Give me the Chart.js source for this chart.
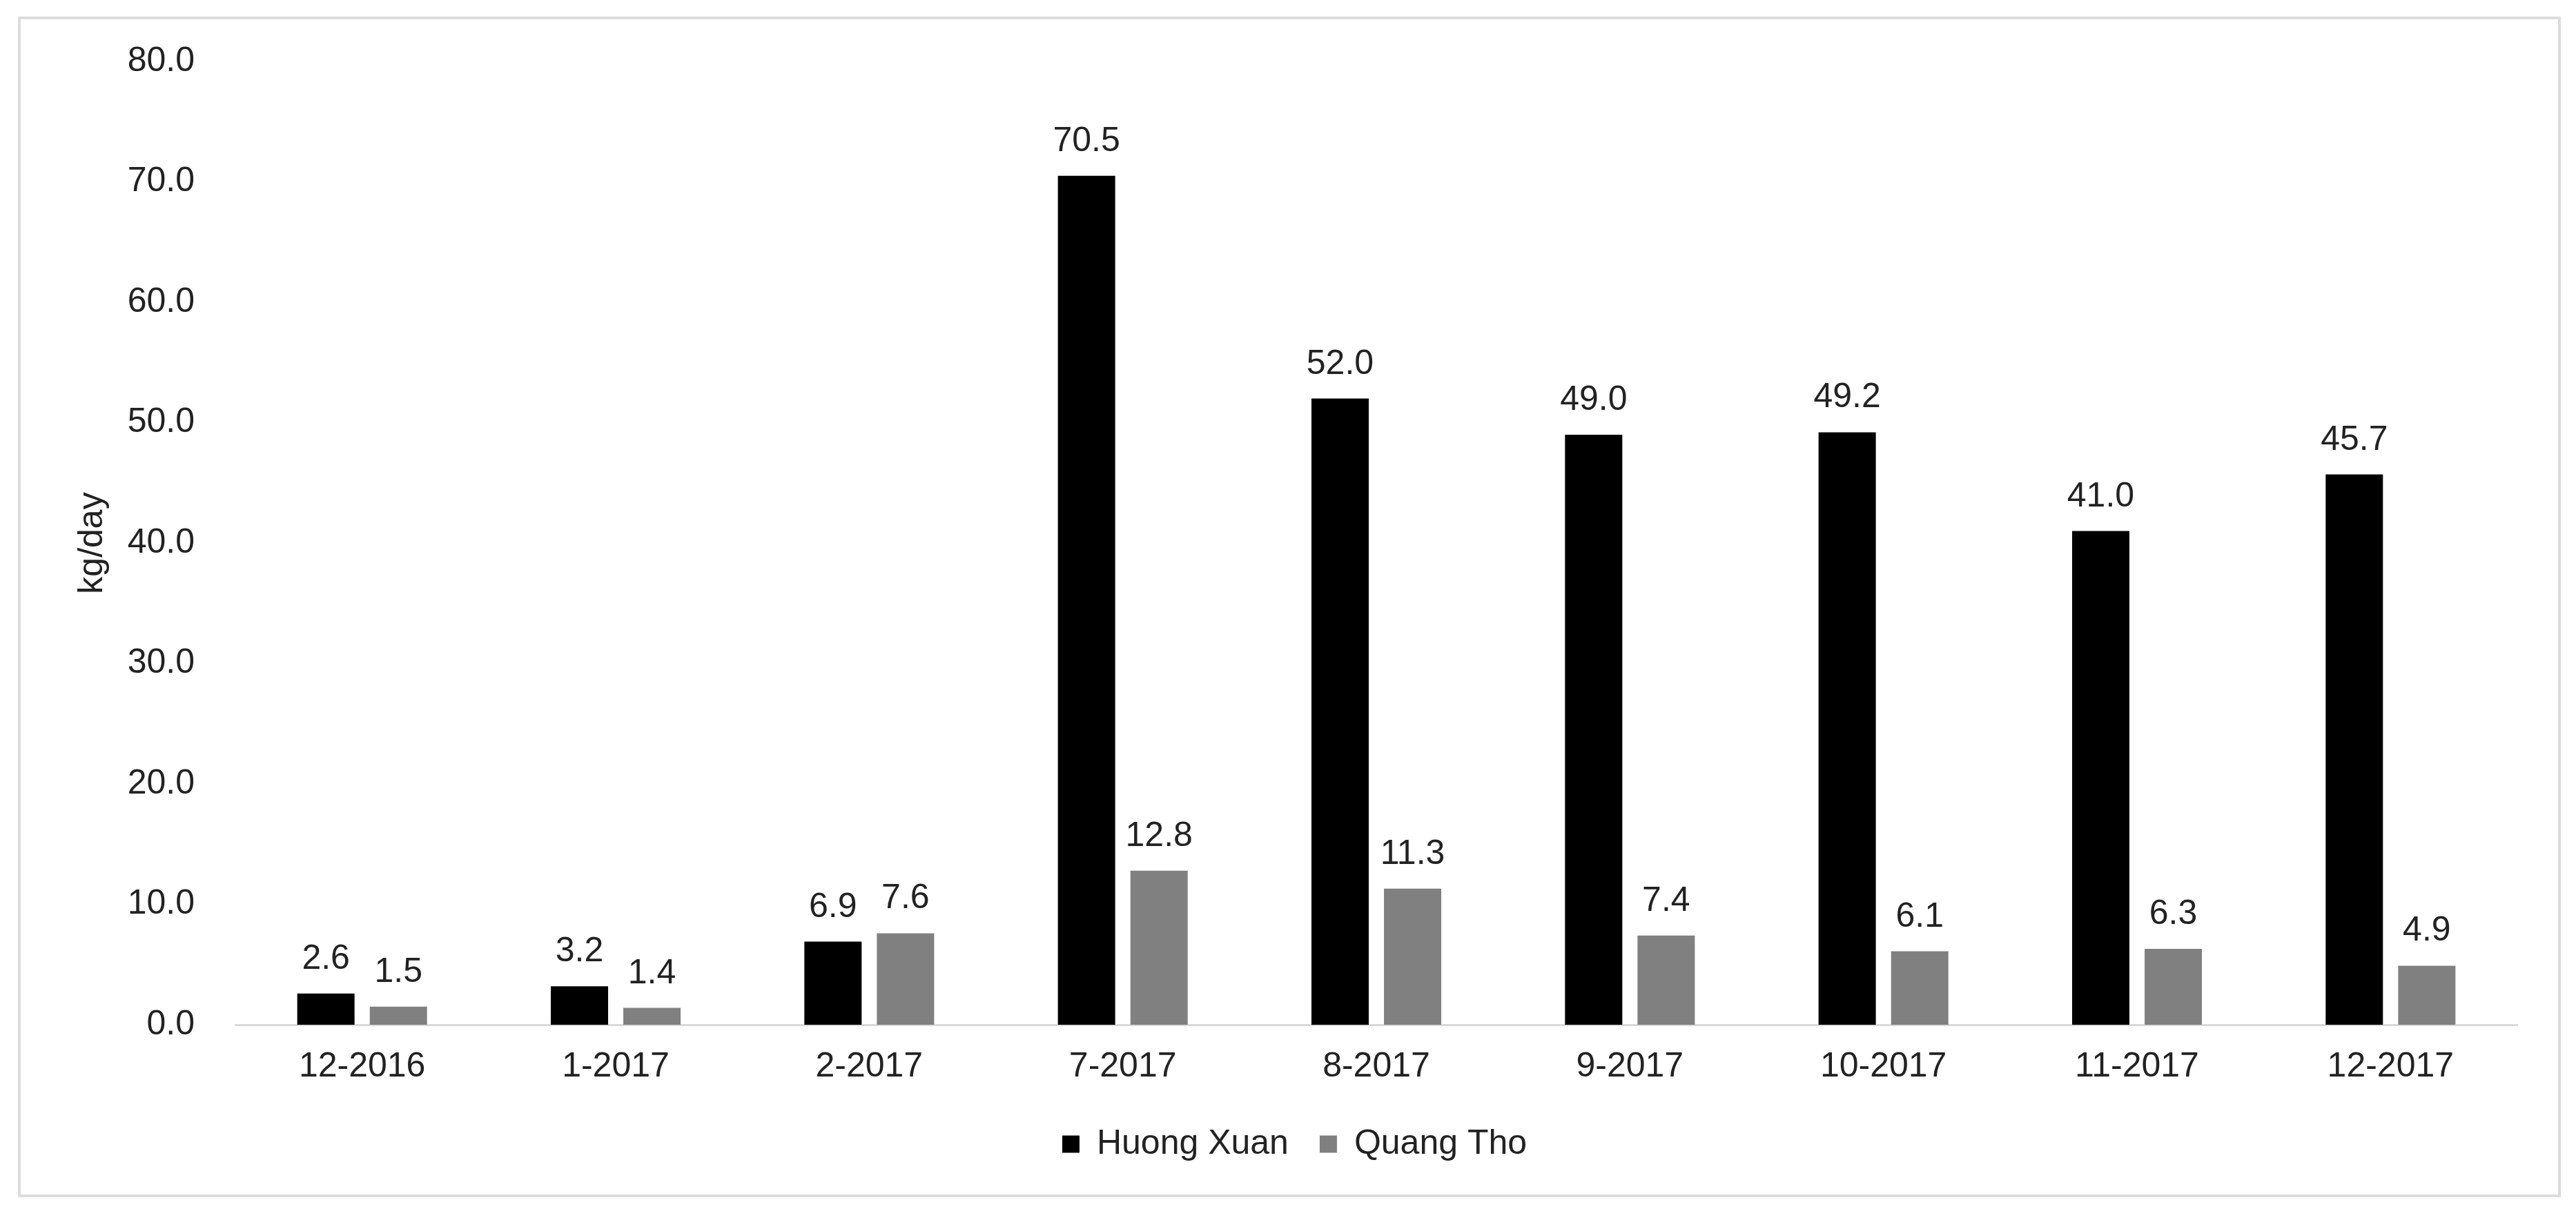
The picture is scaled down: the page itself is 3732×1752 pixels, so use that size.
<!DOCTYPE html>
<html>
<head>
<meta charset="utf-8">
<script src="https://cdn.jsdelivr.net/npm/chart.js@4"></script>
<style>
  html, body { margin: 0; padding: 0; background: #fff; }
  #wrap { position: relative; width: 3732px; height: 1752px; }
  #frame {
    position: absolute; left: 26px; top: 24px; width: 3684px; height: 1711px;
    border: 4px solid #dcdcdc; box-sizing: border-box; pointer-events: none;
  }
</style>
</head>
<body>
<div id="wrap">
  <canvas id="chart" width="3732" height="1752"></canvas>
  <div id="frame"></div>
</div>
<script>
// data
const months = ["12-2016", "1-2017", "2-2017", "7-2017", "8-2017", "9-2017", "10-2017", "11-2017", "12-2017"];
const huongXuan = [2.6, 3.2, 6.9, 70.5, 52.0, 49.0, 49.2, 41.0, 45.7];
const quangTho = [1.5, 1.4, 7.6, 12.8, 11.3, 7.4, 6.1, 6.3, 4.9];

const FONT = "'Liberation Sans', Arial, sans-serif";
const TEXT = "#222222";

// value labels above each bar
const valueLabels = {
  id: "valueLabels",
  afterDatasetsDraw(chart) {
    const ctx = chart.ctx;
    ctx.save();
    ctx.font = "50px " + FONT;
    ctx.fillStyle = TEXT;
    ctx.textAlign = "center";
    ctx.textBaseline = "alphabetic";
    chart.data.datasets.forEach((ds, i) => {
      chart.getDatasetMeta(i).data.forEach((bar, j) => {
        ctx.fillText(ds.data[j].toFixed(1), bar.x, bar.y - 36);
      });
    });
    ctx.restore();
  },
};

Chart.defaults.font.family = FONT;
Chart.defaults.font.size = 50;
Chart.defaults.color = TEXT;

new Chart(document.getElementById("chart").getContext("2d"), {
  type: "bar",
  data: {
    labels: months,
    datasets: [
      {
        label: "Huong Xuan",
        data: huongXuan,
        backgroundColor: "#000000",
        barPercentage: 0.79,
        categoryPercentage: 0.572,
      },
      {
        label: "Quang Tho",
        data: quangTho,
        backgroundColor: "#808080",
        barPercentage: 0.79,
        categoryPercentage: 0.572,
      },
    ],
  },
  options: {
    responsive: false,
    animation: false,
    devicePixelRatio: 1,
    layout: { padding: { left: 104, right: 85, top: 89, bottom: 59 } },
    scales: {
      x: {
        grid: { display: false, drawTicks: false },
        border: { display: true, color: "#d9d9d9", width: 3 },
        ticks: { padding: 44, font: { size: 50, lineHeight: 0.7 }, color: TEXT },
        afterFit(scale) {
          scale.height = 103;
        },
      },
      y: {
        min: 0,
        max: 80,
        grid: { display: false, drawTicks: false },
        border: { display: false },
        ticks: {
          stepSize: 10,
          padding: 59,
          font: { size: 50 },
          color: TEXT,
          callback: (v) => v.toFixed(1),
        },
        title: {
          display: true,
          text: "kg/day",
          font: { size: 50 },
          color: TEXT,
          padding: 0,
        },
        afterFit(scale) {
          scale.width = 237; // keeps the plot edge where the reference has it
        },
      },
    },
    plugins: {
      legend: {
        position: "bottom",
        labels: {
          boxWidth: 25,
          boxHeight: 25,
          padding: 45,
          font: { size: 50 },
          color: TEXT,
        },
      },
      tooltip: { enabled: false },
    },
  },
  plugins: [valueLabels],
});
</script>
</body>
</html>
